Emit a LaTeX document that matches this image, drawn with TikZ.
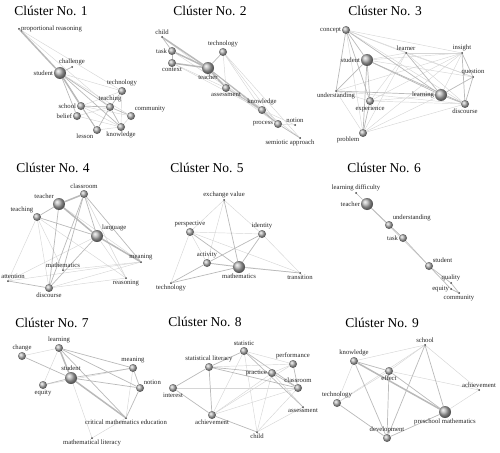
\documentclass[tikz,border=0pt]{standalone}
\usepackage{fontspec}
\setmainfont{Liberation Serif}
\usetikzlibrary{backgrounds}

\begin{document}
\begin{tikzpicture}[x=1pt,y=-1pt,
  kw/.style={circle, inner sep=0pt, minimum size=8pt, shading=ball, ball color=gray!60},
  kwbig/.style={kw, minimum size=12pt},
  kwdot/.style={circle, fill=gray!50!black, inner sep=0pt, minimum size=2pt},
  ttl/.style={font=\fontsize{13.5}{15}\selectfont},
  every label/.style={font=\fontsize{6.7}{7}\selectfont, inner sep=0.6pt, text=black!85},
  ln/.style={gray!32, line width=0.45pt},
  lnm/.style={gray!55, line width=0.7pt},
  lnb/.style={gray!55, line width=1.5pt}]
\useasboundingbox (0,0) rectangle (500,452);

\node[ttl] (t1) at (51,11) {Clúster No. 1};
\node[kwdot, label=right:proportional reasoning] (prop1) at (19,29) {};
\node[kwdot, label=above:challenge] (chal1) at (72,67) {};
\node[kwbig, label=left:student] (stud1) at (60,73) {};
\node[kw, label=above:technology] (tech1) at (122,91) {};
\node[kw, label=above:teaching] (teach1) at (110,107) {};
\node[kw, label=left:school] (school1) at (81,106) {};
\node[kw, label=above right:community] (comm1) at (131,116) {};
\node[kw, label=left:belief] (belief1) at (77,116) {};
\node[kw, label=below left:lesson] (lesson1) at (97,130) {};
\node[kw, label=below:knowledge] (know1) at (121,127) {};

\node[ttl] (t2) at (210,11) {Clúster No. 2};
\node[kwdot, label=above:child] (child2) at (162,37) {};
\node[kw, label=left:task] (task2) at (172,51) {};
\node[kw, label=below:context] (ctx2) at (172,63) {};
\node[kwbig, label=below:teacher] (teacher2) at (208,68) {};
\node[kw, label=above:technology] (tech2) at (223,52) {};
\node[kw, label=below:assessment] (assess2) at (226,88) {};
\node[kw, label=above:knowledge] (know2) at (262,110) {};
\node[kw, label=left:process] (proc2) at (278,124) {};
\node[kwdot, label=above:notion] (notion2) at (295,125) {};
\node[kwdot, label={[xshift=-10pt]below:semiotic approach}] (semi2) at (300,138) {};

\node[ttl] (t3) at (385,11) {Clúster No. 3};
\node[kw, label=left:concept] (concept3) at (346,30) {};
\node[kwbig, label=left:student] (student3) at (367,60) {};
\node[kwdot, label=below:understanding] (under3) at (336,91) {};
\node[kw, label=below:experience] (exp3) at (370,101) {};
\node[kw, label=below left:problem] (prob3) at (363,133) {};
\node[kwdot, label=above:learner] (learner3) at (406,53) {};
\node[kwdot, label=above:insight] (insight3) at (462,53) {};
\node[kwdot, label=above:question] (question3) at (473,77) {};
\node[kwbig, label=left:learning] (learning3) at (441,95) {};
\node[kw, label=below:discourse] (disc3) at (465,104) {};

\node[ttl] (t4) at (53,168) {Clúster No. 4};
\node[kwbig, label=above left:teacher] (teacher4) at (59,204) {};
\node[kw, label=above:classroom] (class4) at (84,194) {};
\node[kw, label=above left:teaching] (teaching4) at (37,217) {};
\node[kwbig, label=above right:language] (lang4) at (97,236) {};
\node[kwdot, label=above:meaning] (meaning4) at (141,262) {};
\node[kwdot, label=above:mathematics] (math4) at (63,270) {};
\node[kwdot, label={[xshift=5pt]above:attention}] (attention4) at (8,281) {};
\node[kw, label=below:discourse] (disc4) at (49,288) {};
\node[kwdot, label=below:reasoning] (reason4) at (126,278) {};

\node[ttl] (t5) at (207,168) {Clúster No. 5};
\node[kwdot, label=above:exchange value] (exch5) at (224,200) {};
\node[kw, label=above:perspective] (persp5) at (190,232) {};
\node[kw, label=above:identity] (ident5) at (262,234) {};
\node[kw, label=above:activity] (act5) at (207,263) {};
\node[kwbig, label=below:mathematics] (math5) at (239,267) {};
\node[kwdot, label=below:technology] (tech5) at (171,283) {};
\node[kwdot, label=below:transition] (trans5) at (300,273) {};

\node[ttl] (t6) at (384,168) {Clúster No. 6};
\node[kwdot, label=above:learning difficulty] (ld6) at (356,193) {};
\node[kwbig, label=left:teacher] (teacher6) at (367,204) {};
\node[kw, label=above right:understanding] (under6) at (389,225) {};
\node[kw, label=left:task] (task6) at (403,238) {};
\node[kw, label=above right:student] (student6) at (429,266) {};
\node[kwdot, label=above:quality] (quality6) at (451,283) {};
\node[kwdot, label=left:equity] (equity6) at (451,289) {};
\node[kwdot, label=below:community] (comm6) at (459,293) {};

\node[ttl] (t7) at (52,323) {Clúster No. 7};
\node[kw, label=above:change] (change7) at (22,356) {};
\node[kw, label=above:learning] (learning7) at (59,348) {};
\node[kwbig, label=above:student] (student7) at (71,378) {};
\node[kw, label=below:equity] (equity7) at (43,385) {};
\node[kw, label=above:meaning] (meaning7) at (133,368) {};
\node[kw, label=above right:notion] (notion7) at (140,388) {};
\node[kwdot, label=below:critical mathematics education] (cme7) at (126,418) {};
\node[kwdot, label=below:mathematical literacy] (ml7) at (92,438) {};

\node[ttl] (t8) at (205,322) {Clúster No. 8};
\node[kw, label=above:statistic] (stat8) at (244,351) {};
\node[kw, label=above:statistical literacy] (sl8) at (209,367) {};
\node[kw, label=above:performance] (perf8) at (293,364) {};
\node[kw, label=left:practice] (pract8) at (272,373) {};
\node[kw, label=above:classroom] (class8) at (298,388) {};
\node[kw, label=below:interest] (int8) at (173,388) {};
\node[kw, label=below:achievement] (ach8) at (212,415) {};
\node[kwdot, label=below:assessment] (assess8) at (303,407) {};
\node[kwdot, label=below:child] (child8) at (257,432) {};

\node[ttl] (t9) at (382,323) {Clúster No. 9};
\node[kwdot, label=above:school] (school9) at (425,345) {};
\node[kw, label=above:knowledge] (know9) at (354,361) {};
\node[kw, label=below:effect] (effect9) at (389,371) {};
\node[kwdot, label=above:achievement] (ach9) at (479,390) {};
\node[kw, label=above:technology] (tech9) at (337,403) {};
\node[kwbig, label=below:preschool mathematics] (pm9) at (445,412) {};
\node[kw, label=above:development] (dev9) at (387,438) {};

\begin{scope}[on background layer]
\foreach \a/\b in {stud1/tech1, stud1/comm1, prop1/tech1, prop1/teach1, school1/know1, school1/comm1,
  belief1/know1, belief1/teach1, lesson1/know1, know1/comm1, tech1/know1, school1/tech1,
  tech2/proc2, tech2/know2, tech2/assess2, child2/proc2, task2/know2, ctx2/know2, ctx2/assess2,
  assess2/proc2, know2/notion2, proc2/notion2, teacher2/semi2, tech2/semi2,
  concept3/prob3, concept3/learner3, concept3/insight3, concept3/question3, concept3/disc3,
  student3/learner3, student3/insight3, student3/question3, under3/exp3, under3/prob3, under3/disc3,
  under3/insight3, exp3/learning3, exp3/learner3, exp3/insight3, exp3/disc3, prob3/learner3,
  prob3/insight3, prob3/learning3, prob3/disc3, learner3/insight3, learner3/disc3,
  learner3/question3, insight3/learning3,
  teaching4/attention4, teaching4/reason4, teaching4/disc4, teaching4/math4, lang4/attention4,
  lang4/reason4, attention4/meaning4, disc4/meaning4, disc4/reason4, math4/meaning4,
  teacher4/meaning4, class4/reason4,
  exch5/persp5, exch5/act5, exch5/ident5, persp5/ident5, persp5/act5, persp5/tech5,
  persp5/trans5, ident5/trans5, act5/trans5,
  teacher6/task6, teacher6/student6,
  change7/learning7, learning7/equity7, meaning7/cme7, student7/ml7, ml7/cme7, equity7/meaning7,
  stat8/perf8, stat8/ach8, stat8/child8, sl8/perf8, pract8/ach8, pract8/child8, pract8/assess8,
  perf8/ach8, int8/class8, ach8/class8, child8/assess8, child8/class8, perf8/pract8,
  school9/know9, school9/effect9, school9/tech9, school9/ach9, effect9/ach9, effect9/tech9,
  know9/tech9, ach9/pm9}
  \draw[ln] (\a) -- (\b);
\foreach \a/\b in {stud1/chal1, stud1/belief1, stud1/lesson1, stud1/know1, school1/lesson1,
  school1/teach1, teach1/lesson1, teach1/know1, teach1/comm1, tech1/teach1, stud1/teach1,
  task2/ctx2, child2/task2, teacher2/tech2, know2/proc2, teacher2/know2, proc2/semi2,
  teacher2/proc2, assess2/know2,
  concept3/student3, concept3/under3, concept3/exp3, concept3/learning3, student3/under3,
  student3/exp3, student3/learning3, student3/disc3, learning3/disc3, under3/learning3,
  exp3/prob3, student3/prob3, learner3/learning3, question3/disc3, insight3/question3,
  insight3/disc3, learning3/question3,
  teacher4/teaching4, class4/lang4, teaching4/lang4, teacher4/disc4, lang4/disc4, class4/disc4,
  class4/meaning4, attention4/disc4, class4/math4,
  persp5/math5, act5/math5, ident5/act5, ident5/math5, math5/trans5, act5/tech5,
  tech5/math5, exch5/math5,
  ld6/teacher6, teacher6/under6, under6/task6, task6/student6, student6/quality6,
  quality6/comm6, equity6/comm6, student6/equity6,
  change7/student7, student7/equity7, student7/meaning7, student7/notion7, learning7/notion7,
  learning7/meaning7, meaning7/notion7, notion7/cme7, learning7/cme7,
  stat8/sl8, sl8/int8, sl8/ach8, int8/ach8, ach8/child8, stat8/class8, stat8/assess8,
  pract8/class8, sl8/pract8, sl8/class8, perf8/class8,
  know9/effect9, effect9/pm9, school9/pm9, school9/dev9, tech9/dev9, dev9/pm9,
  effect9/dev9, know9/dev9}
  \draw[lnm] (\a) -- (\b);
\foreach \a/\b in {stud1/prop1, stud1/school1, child2/teacher2, task2/teacher2, ctx2/teacher2,
  teacher2/assess2, teacher4/class4, teacher4/lang4, lang4/meaning4, learning7/student7,
  student7/cme7, know9/pm9}
  \draw[lnb] (\a) -- (\b);
\end{scope}
\end{tikzpicture}
\end{document}
